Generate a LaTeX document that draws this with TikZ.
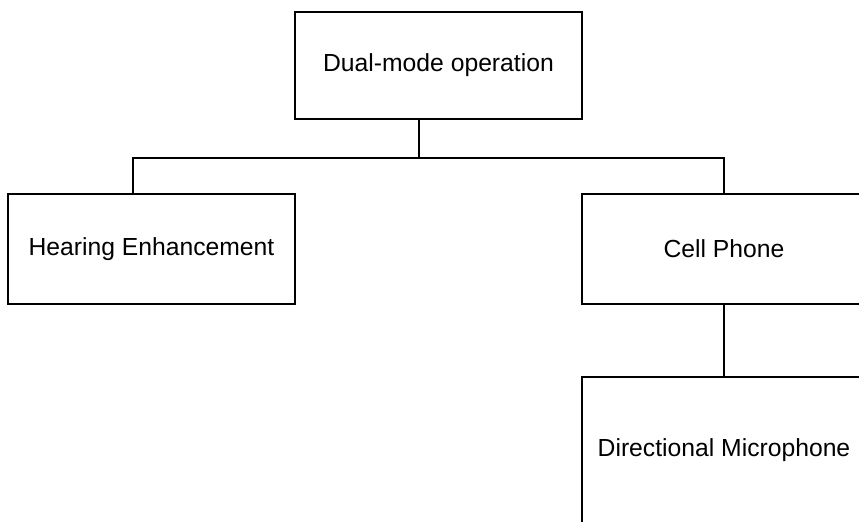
\documentclass[tikz,border=0pt]{standalone}
\usepackage{fontspec}
\setmainfont{Liberation Sans}
\usetikzlibrary{positioning}
\tikzstyle{box} = [rectangle, minimum width = 143.5pt, minimum height = 55pt,
  draw = black, line width = 1.1pt, text centered,
  font = \fontsize{12.35}{15}\selectfont]
\tikzstyle{link} = [draw = black, line width = 1.1pt]

\begin{document}
\begin{tikzpicture}[node distance = 0]
      \useasboundingbox (0, 0) rectangle (429.5pt, -261pt);
      \clip (0, 0) rectangle (429.5pt, -261pt);
      % top
      \node [box, minimum height = 53.5pt] (dual) at (219.25pt, -32.75pt)
        {Dual-mode operation};
      % modes
      \node [box, below of = dual, xshift = -143.5pt, yshift = -91.75pt]
        (hearing) {Hearing Enhancement};
      \node [box, minimum width = 142pt, below of = dual, xshift = 142.75pt,
        yshift = -91.75pt] (cell) {Cell Phone};
      % cell phone sub
      \node [box, minimum width = 142pt, minimum height = 73.5pt,
        below of = cell, yshift = -100.75pt] (mic) {Directional Microphone};

      \draw [link] ([xshift = -9.75pt] dual.south) -- ++(0, -19pt)
        coordinate (bus);
      \draw [link] ([xshift = -9.25pt] hearing.north) |- (bus) -| (cell.north);
      \draw [link] (cell) -- (mic);
    \end{tikzpicture}
\end{document}
